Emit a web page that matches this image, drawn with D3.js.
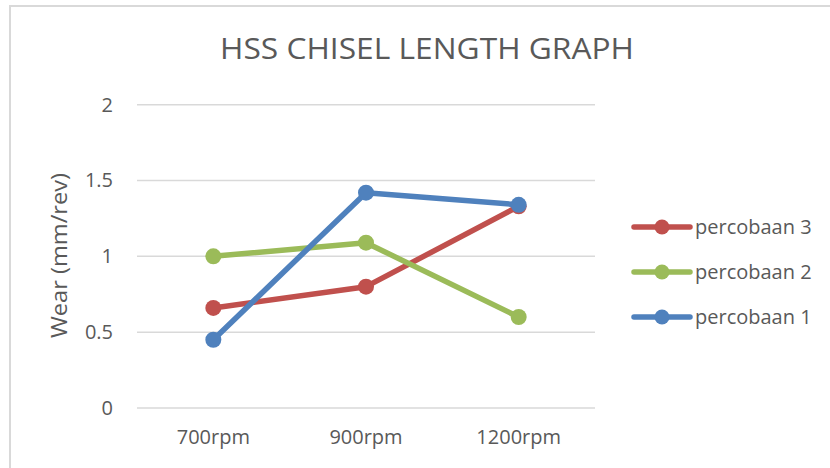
<!DOCTYPE html>
<html>
<head>
<meta charset="utf-8">
<script src="https://cdn.jsdelivr.net/npm/d3@7"></script>
<style>
  html, body { margin: 0; padding: 0; background: #ffffff; }
  svg { display: block; }
  text { font-family: "Open Sans", "Liberation Sans", sans-serif; fill: #595959; }
</style>
</head>
<body>
<svg id="chart" width="830" height="468"></svg>
<script>
const categories = ["700rpm", "900rpm", "1200rpm"];
const seriesNames = ["percobaan 3", "percobaan 2", "percobaan 1"];
const percobaan3 = [0.66, 0.80, 1.33];
const percobaan2 = [1.00, 1.09, 0.60];
const percobaan1 = [0.45, 1.42, 1.34];
const seriesColors = ["#C0504D", "#9BBB59", "#4F81BD"];
const yTicks = [0, 0.5, 1, 1.5, 2];
const titleText = "HSS CHISEL LENGTH GRAPH";
const yAxisTitle = "Wear (mm/rev)";

const series = [
  { name: seriesNames[0], values: percobaan3, color: seriesColors[0] },
  { name: seriesNames[1], values: percobaan2, color: seriesColors[1] },
  { name: seriesNames[2], values: percobaan1, color: seriesColors[2] }
];

const svg = d3.select("#chart");

// chart area border (cropped at right/bottom)
svg.append("rect")
  .attr("x", 10).attr("y", 6).attr("width", 900).attr("height", 600)
  .attr("fill", "none").attr("stroke", "#d9d9d9").attr("stroke-width", 2);

const x = d3.scaleBand().domain(categories).range([137, 595]).paddingInner(0).paddingOuter(0);
const y = d3.scaleLinear().domain([0, 2]).range([408, 104.7]);

// title
svg.append("text")
  .attr("x", 427).attr("y", 58.5)
  .attr("text-anchor", "middle")
  .attr("font-size", 29)
  .attr("font-weight", 400)
  .attr("textLength", 414)
  .attr("lengthAdjust", "spacingAndGlyphs")
  .text(titleText);

// gridlines
svg.append("g").selectAll("line").data(yTicks).join("line")
  .attr("x1", 137).attr("x2", 595)
  .attr("y1", d => y(d)).attr("y2", d => y(d))
  .attr("stroke", "#d9d9d9").attr("stroke-width", 1.5);

// y axis labels
const yAxis = d3.axisLeft(y).tickValues(yTicks).tickSize(0).tickPadding(0)
  .tickFormat(d => String(d));
const yg = svg.append("g").attr("transform", "translate(113,0)").call(yAxis);
yg.select(".domain").remove();
yg.selectAll("text").attr("font-size", 20).attr("fill", "#595959")
  .style("font-family", "\"Open Sans\", sans-serif");

// x axis labels
const xAxis = d3.axisBottom(x).tickSize(0).tickPadding(0);
const xg = svg.append("g").attr("transform", "translate(0,430)").call(xAxis);
xg.select(".domain").remove();
xg.selectAll("text").attr("font-size", 20).attr("fill", "#595959").attr("dy", "0.71em")
  .style("font-family", "\"Open Sans\", sans-serif");

// y axis title
svg.append("text")
  .attr("transform", "translate(67,255.5) rotate(-90)")
  .attr("text-anchor", "middle")
  .attr("font-size", 22.5)
  .attr("textLength", 165)
  .attr("lengthAdjust", "spacingAndGlyphs")
  .text(yAxisTitle);

// lines and markers
const line = d3.line()
  .x((d, i) => x(categories[i]) + x.bandwidth() / 2)
  .y(d => y(d));

const sg = svg.append("g").selectAll("g").data(series).join("g");
sg.append("path")
  .attr("d", d => line(d.values))
  .attr("fill", "none")
  .attr("stroke", d => d.color)
  .attr("stroke-width", 5.5)
  .attr("stroke-linejoin", "round")
  .attr("stroke-linecap", "round");
sg.selectAll("circle").data(d => d.values.map((v, i) => ({ v, i, color: d.color }))).join("circle")
  .attr("cx", d => x(categories[d.i]) + x.bandwidth() / 2)
  .attr("cy", d => y(d.v))
  .attr("r", 8)
  .attr("fill", d => d.color);

// legend
const legendY = d3.scalePoint().domain(seriesNames).range([227, 317]);
const lg = svg.append("g").selectAll("g").data(series).join("g")
  .attr("transform", d => `translate(0,${legendY(d.name)})`);
lg.append("line")
  .attr("x1", 634).attr("x2", 690).attr("y1", 0).attr("y2", 0)
  .attr("stroke", d => d.color).attr("stroke-width", 5.5).attr("stroke-linecap", "round");
lg.append("circle").attr("cx", 662).attr("cy", 0).attr("r", 7.5).attr("fill", d => d.color);
lg.append("text")
  .attr("x", 695).attr("y", 0).attr("dy", "0.35em")
  .attr("font-size", 20)
  .text(d => d.name);
</script>
</body>
</html>
